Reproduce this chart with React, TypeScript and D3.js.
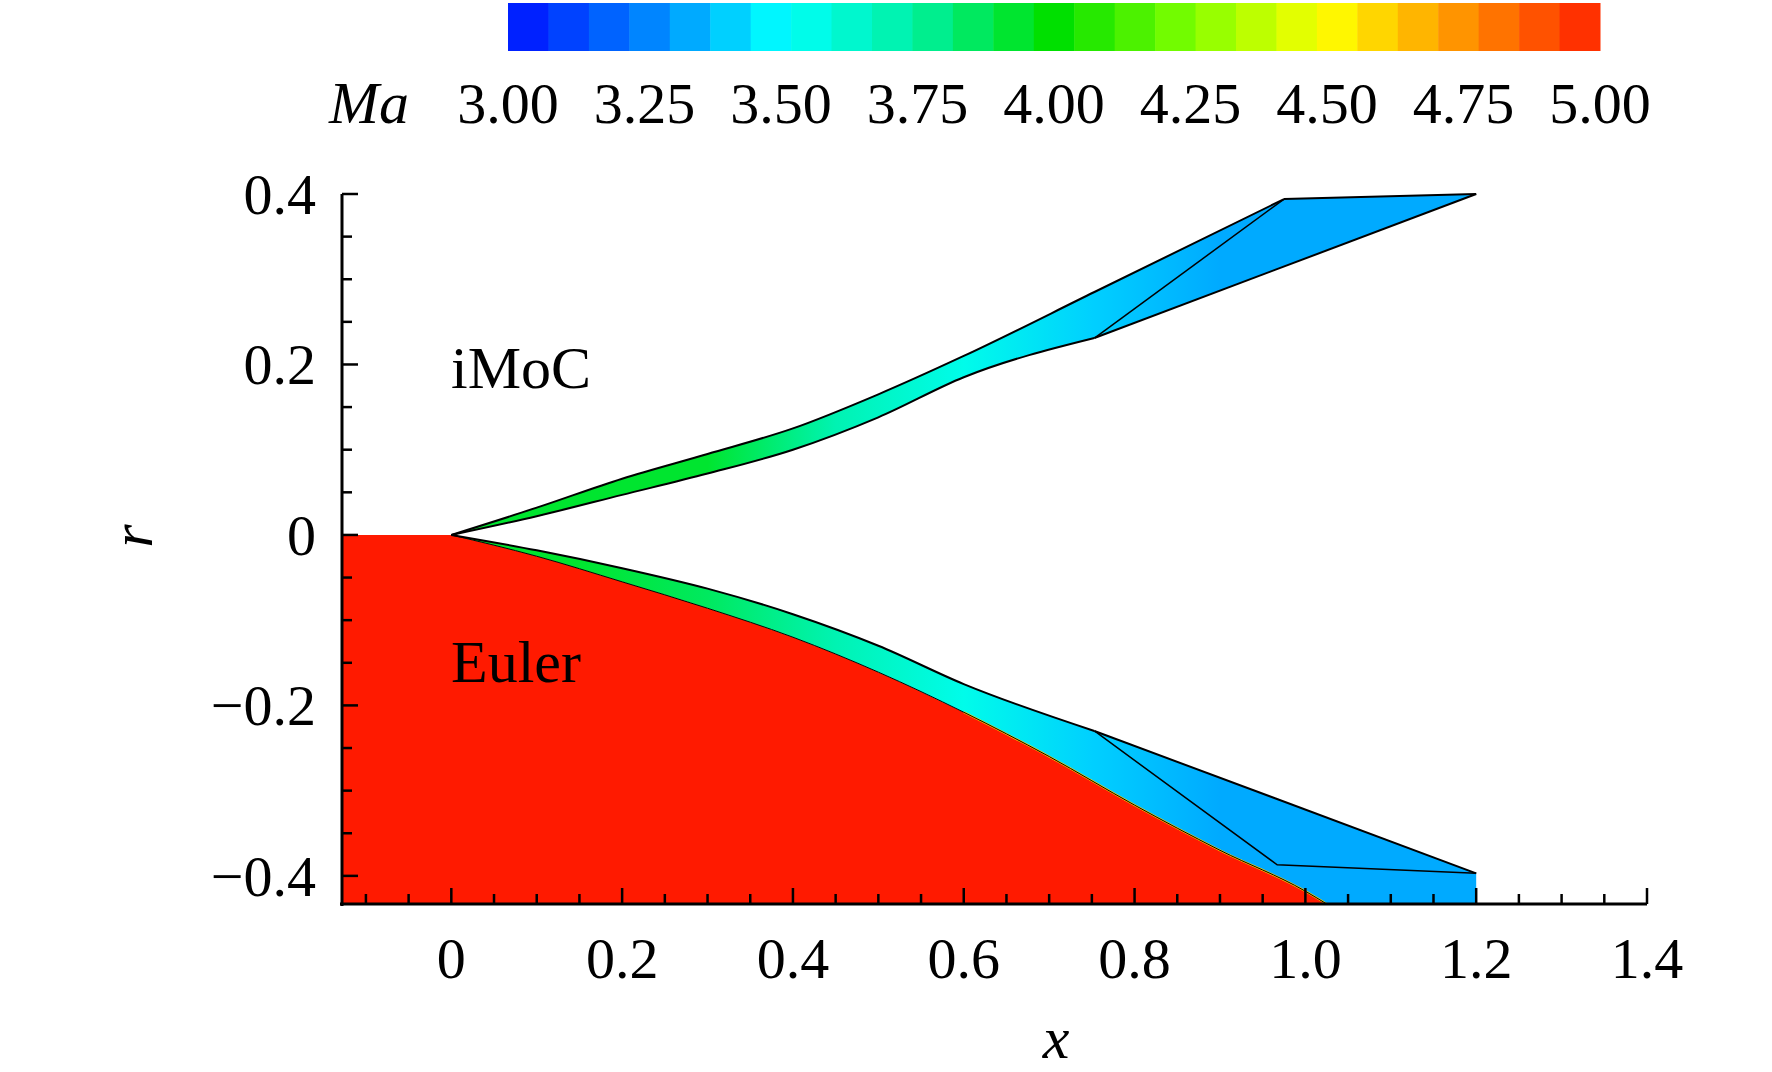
import React from "react";
import * as d3 from "d3";

const maTicks = [3.0, 3.25, 3.5, 3.75, 4.0, 4.25, 4.5, 4.75, 5.0];
const xTicks = [0, 0.2, 0.4, 0.6, 0.8, 1.0, 1.2, 1.4];
const yTicks = [-0.4, -0.2, 0, 0.2, 0.4];

const upperOuter: [number, number][] = [[0,0],[0.1,0.032],[0.2,0.066],[0.3,0.095],[0.4,0.125],[0.5,0.165],[0.6,0.21],[0.753,0.285],[0.975,0.394]];
const upperOuterEnd: [number, number][] = [[0.975,0.394],[1.2,0.4]];
const upperInner: [number, number][] = [[0,0],[0.1,0.022],[0.2,0.047],[0.3,0.072],[0.4,0.1],[0.5,0.138],[0.6,0.185],[0.753,0.231]];
const upperInnerEnd: [number, number][] = [[0.753,0.231],[1.2,0.4]];
const upperWave: [number, number][] = [[0.753,0.231],[0.975,0.394]];
const body: [number, number][] = [[0,0],[0.1,-0.025],[0.2,-0.055],[0.3,-0.086],[0.4,-0.12],[0.5,-0.161],[0.6,-0.208],[0.7,-0.26],[0.8,-0.317],[0.9,-0.37],[1.0,-0.418],[1.025,-0.433]];
const shock: [number, number][] = [[0,0],[0.1,-0.018],[0.2,-0.039],[0.3,-0.063],[0.4,-0.093],[0.5,-0.13],[0.6,-0.175],[0.753,-0.23]];
const shockEnd: [number, number][] = [[0.753,-0.23],[1.2,-0.397]];
const lowerWave: [number, number][] = [[0.753,-0.23],[0.967,-0.387],[1.2,-0.397]];
const upperMaX = [0, 0.15, 0.3, 0.45, 0.6, 0.75, 0.9, 1.05, 1.2];
const upperMa = [3.95, 3.95, 3.9, 3.72, 3.55, 3.38, 3.3, 3.3, 3.35];
const lowerMaX = [0, 0.15, 0.3, 0.45, 0.6, 0.75, 0.9, 1.05, 1.2];
const lowerMa = [3.95, 3.95, 3.88, 3.7, 3.52, 3.4, 3.3, 3.3, 3.3];

const W = 1772, H = 1072;
const x = d3.scaleLinear().domain([-0.128, 1.4]).range([342, 1647]);
const y = d3.scaleLinear().domain([-0.433, 0.4]).range([904, 194]);

const cmap = d3.scaleLinear<string>()
  .domain([3.0, 3.25, 3.5, 3.75, 4.0, 4.25, 4.5, 4.75, 5.0])
  .range(["#0010ff", "#0080ff", "#00ffff", "#00f0a0", "#00e000", "#80ff00", "#ffff00", "#ff9000", "#ff2000"])
  .interpolate(d3.interpolateRgb);
const nBands = 27;
const bandColor = (m: number) => {
  const k = Math.min(nBands - 1, Math.floor(((m - 3) / 2) * nBands));
  return cmap(3 + ((k + 0.5) / nBands) * 2);
};

const curve = d3.line<[number, number]>().x(d => x(d[0])).y(d => y(d[1])).curve(d3.curveMonotoneX);
const line = d3.line<[number, number]>().x(d => x(d[0])).y(d => y(d[1]));
const FONT = "'Liberation Serif', 'Times New Roman', serif";

export default function App() {
  const cb = d3.scaleLinear().domain([3, 5]).range([508, 1600]);
  const bands = d3.range(nBands);
  const rev = (p: string) => p; // helper placeholder
  // Build closed polygons from curves
  const upperPath = curve(upperOuter)! + "L" + x(1.2) + "," + y(0.4) + "L" + x(0.753) + "," + y(0.231) +
    curve([...upperInner].reverse())!.replace(/^M/, "L") + "Z";
  const lowerPath = curve(shock)! + "L" + x(1.2) + "," + y(-0.397) + "L" + x(1.2) + "," + y(-0.433) +
    "L" + x(1.025) + "," + y(-0.433) + curve([...body].reverse())!.replace(/^M/, "L") + "Z";
  const redPath = "M" + x(-0.128) + "," + y(0) + curve(body)!.replace(/^M/, "L") + "L" + x(-0.128) + "," + y(-0.433) + "Z";
  const minor = d3.range(-0.1, 1.4001, 0.05);
  const minorY = d3.range(-0.4, 0.4001, 0.05);
  void rev;
  return (
    <svg width={W} height={H} style={{ position: "absolute", left: 0, top: 0, background: "#fff" }}>
      <defs>
        <linearGradient id="gu" gradientUnits="userSpaceOnUse" x1={x(0)} x2={x(1.2)} y1={0} y2={0}>
          {upperMa.map((m, i) => <stop key={i} offset={upperMaX[i] / 1.2} stopColor={bandColor(m)} />)}
        </linearGradient>
        <linearGradient id="gl" gradientUnits="userSpaceOnUse" x1={x(0)} x2={x(1.2)} y1={0} y2={0}>
          {lowerMa.map((m, i) => <stop key={i} offset={lowerMaX[i] / 1.2} stopColor={bandColor(m)} />)}
        </linearGradient>
      </defs>
      {bands.map(i => (
        <rect key={i} x={cb(3 + (i / nBands) * 2)} y={3} width={cb(3 + ((i + 1) / nBands) * 2) - cb(3 + (i / nBands) * 2) + 0.5} height={48}
          fill={cmap(3 + ((i + 0.5) / nBands) * 2)} />
      ))}
      <text x={409} y={123} fontFamily={FONT} fontStyle="italic" fontSize={60} textAnchor="end">Ma</text>
      {maTicks.map(t => (
        <text key={t} x={cb(t)} y={123} fontFamily={FONT} fontSize={58} textAnchor="middle">{t.toFixed(2)}</text>
      ))}
      <path d={redPath} fill="#ff1a00" />
      <path d={lowerPath} fill="url(#gl)" />
      <path d={upperPath} fill="url(#gu)" />
      <path d={curve(body.slice(6))!} fill="none" stroke="#ffd000" strokeWidth={2} />
      <path d={curve(upperOuter)!} fill="none" stroke="#000" strokeWidth={2} />
      <path d={line(upperOuterEnd)!} fill="none" stroke="#000" strokeWidth={2} />
      <path d={curve(upperInner)!} fill="none" stroke="#000" strokeWidth={2} />
      <path d={line(upperInnerEnd)!} fill="none" stroke="#000" strokeWidth={2} />
      <path d={line(upperWave)!} fill="none" stroke="#000" strokeWidth={1.5} />
      <path d={curve(shock)!} fill="none" stroke="#000" strokeWidth={2} />
      <path d={line(shockEnd)!} fill="none" stroke="#000" strokeWidth={2} />
      <path d={curve(body)!} fill="none" stroke="#000" strokeWidth={1} />
      <path d={line(lowerWave)!} fill="none" stroke="#000" strokeWidth={1.5} />
      <line x1={342} x2={342} y1={194} y2={906} stroke="#000" strokeWidth={3} />
      <line x1={340} x2={1647} y1={904} y2={904} stroke="#000" strokeWidth={3} />
      {minorY.map(v => (
        <line key={"my" + v} x1={342} x2={Math.abs(Math.round(v * 100) % 20) === 0 ? 358 : 352} y1={y(v)} y2={y(v)} stroke="#000" strokeWidth={2.5} />
      ))}
      {minor.map(v => (
        <line key={"mx" + v} x1={x(v)} x2={x(v)} y1={904} y2={Math.abs(Math.round(v * 100) % 20) === 0 ? 888 : 894} stroke="#000" strokeWidth={2.5} />
      ))}
      {yTicks.map(t => (
        <text key={t} x={316} y={y(t) + 20} fontFamily={FONT} fontSize={58} textAnchor="end">{t === 0 ? "0" : (t < 0 ? "\u2212" : "") + Math.abs(t).toFixed(1)}</text>
      ))}
      {xTicks.map(t => (
        <text key={t} x={x(t)} y={978} fontFamily={FONT} fontSize={58} textAnchor="middle">{t === 0 ? "0" : t.toFixed(1)}</text>
      ))}
      <text x={1056} y={1058} fontFamily={FONT} fontStyle="italic" fontSize={60} textAnchor="middle">x</text>
      <text transform="translate(152,536) rotate(-90)" fontFamily={FONT} fontStyle="italic" fontSize={60} textAnchor="middle">r</text>
      <text x={451} y={388} fontFamily={FONT} fontSize={60}>iMoC</text>
      <text x={451} y={682} fontFamily={FONT} fontSize={60}>Euler</text>
    </svg>
  );
}
